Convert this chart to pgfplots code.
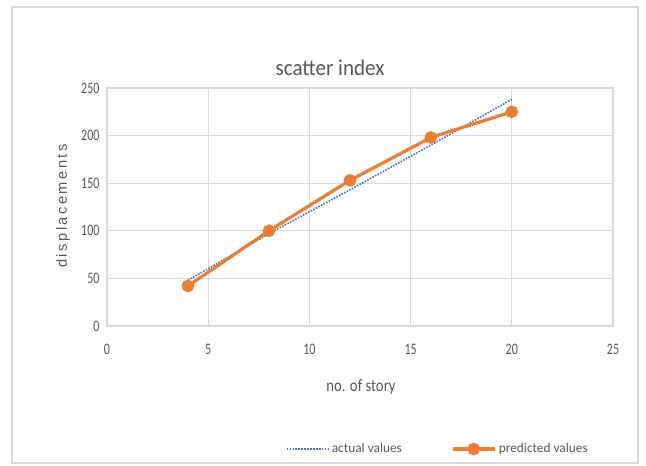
\documentclass[border=0pt]{standalone}
\usepackage{pgfplots}
\pgfplotsset{compat=1.18}
\usepackage{fontspec}
\setmainfont{Carlito}
\newfontfamily\arialfont[LetterSpace=17]{Liberation Sans}
\definecolor{xlorange}{HTML}{ED7D31}
\definecolor{xlblue}{HTML}{4472C4}
\definecolor{gridgray}{HTML}{D9D9D9}
\definecolor{txtgray}{HTML}{595959}
\begin{document}
\begin{tikzpicture}[x=0.75pt,y=0.75pt]
% page: 646 x 465 px, 1 unit = 1 px
\path (0,0) rectangle (646,465);
\draw[gridgray, line width=1pt] (12,2) rectangle (638,458);
\node[txtgray, font=\fontsize{17}{19}\selectfont, xscale=0.93] at (330,397) {scatter index};
\node[txtgray, rotate=90, font=\arialfont\fontsize{11}{13}\selectfont] at (63,259) {displacements};
\node[txtgray, font=\fontsize{13}{15}\selectfont, xscale=0.85] at (361,78) {no. of story};
\begin{axis}[
    at={(80.25pt,104.25pt)}, anchor=south west,
    scale only axis,
    width=379.5pt, height=178.5pt,
    xmin=0, xmax=25, ymin=0, ymax=250,
    xtick={0,5,...,25}, ytick={0,50,...,250},
    grid=major,
    grid style={gridgray, line width=0.8pt},
    axis line style={gridgray, line width=0.8pt},
    tick style={draw=none},
    ticklabel style={txtgray, font=\fontsize{12}{13}\selectfont, xscale=0.75},
    xticklabel style={yshift=-10pt},
    yticklabel style={xshift=-4pt},
    /pgf/number format/assume math mode=true,
    legend image code/.code={
        \draw[mark repeat=2, mark phase=2, #1]
            plot coordinates {(0cm,0cm) (0.55cm,0cm) (1.1cm,0cm)};},
    legend style={at={(0.345,-0.517)}, anchor=west, draw=none, fill=none,
        legend columns=2, font=\fontsize{10}{12}\selectfont\color{txtgray},
        /tikz/every even column/.append style={column sep=35pt}},
    legend cell align=left,
]
\addplot[xlblue, densely dotted, line width=1.2pt, mark=none]
    coordinates {(4,48)(8,97)(12,143)(16,190)(20,238)};
\addlegendentry{actual values}
\addplot[xlorange, line width=2.4pt, mark=*, mark size=3.5pt, mark options={solid, fill=xlorange}]
    coordinates {(4,42)(8,100)(12,153)(16,198)(20,225)};
\addlegendentry{predicted values}
\end{axis}
\end{tikzpicture}
\end{document}
